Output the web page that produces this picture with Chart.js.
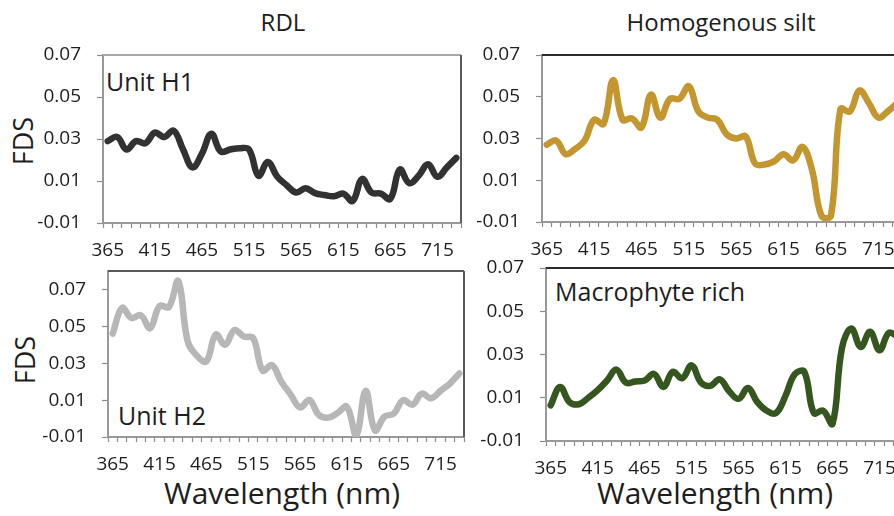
<!DOCTYPE html>
<html><head><meta charset="utf-8">
<script src="https://cdn.jsdelivr.net/npm/chart.js@4.4.1/dist/chart.umd.min.js"></script>
<style>
html,body{margin:0;padding:0;}
body{width:894px;height:516px;overflow:hidden;background:#fff;position:relative;font-family:"Open Sans",sans-serif;color:#1e1e1e;}
canvas{position:absolute;}
.txt{position:absolute;white-space:nowrap;line-height:1;color:#1e1e1e;}
.ctr{transform:translate(-50%,-50%);}
.rot{transform:translate(-50%,-50%) rotate(-90deg);}
</style></head>
<body>
<div class="txt ctr" style="left:283px;top:22px;font-size:24px;">RDL</div>
<div class="txt ctr" style="left:721px;top:22px;font-size:24px;">Homogenous silt</div>
<div class="txt rot" style="left:22px;top:141px;font-size:27px;">FDS</div>
<div class="txt rot" style="left:24px;top:360px;font-size:27px;">FDS</div>
<div class="txt ctr" style="left:282px;top:493px;font-size:30px;">Wavelength (nm)</div>
<div class="txt ctr" style="left:715px;top:493px;font-size:30px;">Wavelength (nm)</div>
<div class="txt" style="left:106px;top:69px;font-size:25px;">Unit H1</div>
<div class="txt" style="left:118px;top:403px;font-size:25px;">Unit H2</div>
<div class="txt" style="left:555px;top:279px;font-size:25px;">Macrophyte rich</div>
<script>
// ---- data ----
const wavelengths = [365,375,385,395,405,415,425,435,445,455,465,475,485,495,505,515,525,535,545,555,565,575,585,595,605,615,625,635,645,655,665,675,685,695,705,715,725,735];
const xTickLabels = [365,415,465,515,565,615,665,715];
const yTickValues = [-0.01,0.01,0.03,0.05,0.07];
const unitH1 = [0.029,0.031,0.025,0.029,0.028,0.033,0.031,0.034,0.025,0.0165,0.023,0.0325,0.024,0.025,0.0256,0.025,0.0125,0.019,0.012,0.008,0.0045,0.0065,0.0042,0.0033,0.0027,0.004,0.0005,0.011,0.0045,0.004,0.0015,0.0155,0.009,0.0125,0.018,0.012,0.0165,0.021];
const homogenousSilt = [0.027,0.029,0.0225,0.025,0.029,0.039,0.037,0.058,0.039,0.0396,0.0353,0.051,0.040,0.049,0.049,0.055,0.043,0.040,0.039,0.032,0.030,0.031,0.018,0.0175,0.019,0.0225,0.0195,0.026,0.015,-0.007,-0.007,0.044,0.043,0.053,0.047,0.040,0.043,0.047];
const unitH2 = [0.046,0.060,0.0545,0.056,0.049,0.061,0.0605,0.0745,0.042,0.034,0.031,0.0455,0.040,0.048,0.0445,0.0436,0.026,0.029,0.020,0.013,0.006,0.010,0.002,0.0005,0.003,0.0064,-0.009,0.015,-0.0064,0.001,0.0027,0.010,0.0075,0.0135,0.011,0.015,0.019,0.0245];
const macrophyteRich = [0.0065,0.015,0.008,0.007,0.010,0.0135,0.018,0.023,0.017,0.0175,0.018,0.021,0.015,0.022,0.019,0.025,0.017,0.0155,0.0185,0.013,0.0095,0.0145,0.008,0.004,0.003,0.011,0.021,0.022,0.003,0.004,-0.002,0.033,0.042,0.0335,0.0405,0.032,0.040,0.038];

// ---- layout / style ----
const YW = 100, XH = 50, PT = 14;
const panels = [
  {values:unitH1, color:'#323232', l:103, t:55, r:461, b:223, yMax:0.07, pr:6, topColor:'#a8a8a8', rightColor:'#5a5a5a'},
  {values:homogenousSilt, color:'#c3962f', l:542, t:55, r:902, b:222, yMax:0.07, pr:0, topColor:'#2a2a2a', rightColor:null},
  {values:unitH2, color:'#b7b7b7', l:108, t:271, r:464, b:437, yMax:0.08, pr:6, topColor:'#5a5a5a', rightColor:'#5a5a5a'},
  {values:macrophyteRich, color:'#36561f', l:546, t:268, r:903, b:441, yMax:0.07, pr:0, topColor:'#2a2a2a', rightColor:null}
];

const framePlugin = {
  id:'frame',
  afterDraw(chart, args, opts){
    const {ctx, chartArea:{left,top,right,bottom}} = chart;
    ctx.save();
    if(opts.topColor){ctx.strokeStyle=opts.topColor;ctx.lineWidth=2;ctx.beginPath();ctx.moveTo(left,top);ctx.lineTo(right,top);ctx.stroke();}
    if(opts.rightColor){ctx.strokeStyle=opts.rightColor;ctx.lineWidth=2;ctx.beginPath();ctx.moveTo(right,top);ctx.lineTo(right,bottom);ctx.stroke();}
    ctx.restore();
  }
};

const axisColor = '#999999';
const tickFont = {family:'"Open Sans", sans-serif', size:19};

panels.forEach(p => {
  const cv = document.createElement('canvas');
  const W = (p.r - p.l) + YW + p.pr;
  const H = (p.b - p.t) + PT + XH;
  cv.width = W; cv.height = H;
  cv.style.width = W + 'px'; cv.style.height = H + 'px';
  cv.style.left = (p.l - YW) + 'px'; cv.style.top = (p.t - PT) + 'px';
  document.body.appendChild(cv);
  new Chart(cv, {
    type:'line',
    data:{datasets:[{
      data: wavelengths.map((w,i)=>({x:w, y:p.values[i]})),
      borderColor:p.color, borderWidth:6.5, pointRadius:0, tension:0.4,
      borderCapStyle:'round', borderJoinStyle:'round', fill:false
    }]},
    options:{
      responsive:false, animation:false, devicePixelRatio:1,
      layout:{padding:{top:PT, right:p.pr, left:0, bottom:0}},
      plugins:{legend:{display:false}, tooltip:{enabled:false}, frame:{topColor:p.topColor, rightColor:p.rightColor}},
      scales:{
        x:{
          type:'linear', min:360, max:740,
          afterBuildTicks(s){const t=[];for(let v=360;v<=740;v+=5)t.push({value:v});s.ticks=t;},
          afterFit(s){s.height=XH;s.paddingLeft=0;s.paddingRight=0;},
          ticks:{autoSkip:false, maxRotation:0, minRotation:0, padding:11, color:'#1e1e1e', font:tickFont,
            callback:(v)=> xTickLabels.includes(v) ? String(v) : ''},
          grid:{display:true, drawOnChartArea:false, drawTicks:true, tickLength:5, tickWidth:1.2,
            tickColor:(c)=> (c.tick && c.tick.value % 10 === 0) ? '#8c8c8c' : 'rgba(0,0,0,0)'},
          border:{display:true, color:axisColor, width:2}
        },
        y:{
          type:'linear', min:-0.01, max:p.yMax,
          afterBuildTicks(s){s.ticks = yTickValues.map(v=>({value:v}));},
          afterFit(s){s.width=YW;s.paddingTop=0;s.paddingBottom=0;},
          ticks:{padding:16, color:'#1e1e1e', font:tickFont, callback:(v)=> Number(v).toFixed(2)},
          grid:{display:true, drawOnChartArea:false, drawTicks:true, tickLength:6, tickWidth:1.2, tickColor:'#8c8c8c'},
          border:{display:true, color:axisColor, width:2}
        }
      }
    },
    plugins:[framePlugin]
  });
});
</script>
</body></html>
